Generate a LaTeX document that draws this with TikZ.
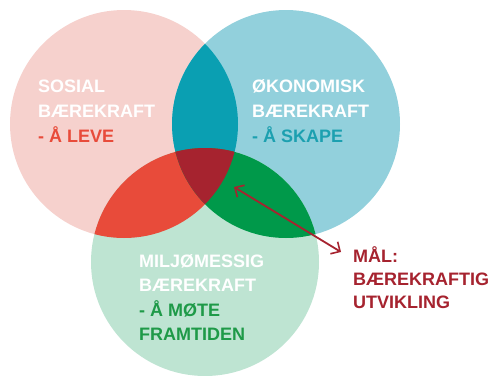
\documentclass[tikz,border=0pt]{standalone}
\usepackage{fontspec}
\setmainfont{Liberation Sans}[BoldFont={Liberation Sans Bold}]
\usetikzlibrary{arrows.meta}
\definecolor{pinkL}{HTML}{F6D1CD}
\definecolor{tealL}{HTML}{92D0DC}
\definecolor{greenL}{HTML}{BEE4D2}
\definecolor{pinkTeal}{HTML}{0A9FB2}
\definecolor{pinkGreen}{HTML}{E84B3A}
\definecolor{tealGreen}{HTML}{00994A}
\definecolor{triple}{HTML}{A6232F}
\definecolor{txtRed}{HTML}{E84B3A}
\definecolor{txtTeal}{HTML}{1CA0B0}
\definecolor{txtGreen}{HTML}{1E9A48}
\definecolor{txtGoal}{HTML}{A6232F}
\tikzset{
  lbl/.style={anchor=base west, inner sep=0pt, font=\fontsize{18}{22}\selectfont\bfseries},
  goalarrow/.style={draw=txtGoal, line width=1.8pt,
    {Straight Barb[length=7pt,width=14pt,line width=1.6pt]}-{Straight Barb[length=7pt,width=14pt,line width=1.6pt]}}
}
\begin{document}
\begin{tikzpicture}[x=1pt,y=-1pt]
\useasboundingbox (0,0) rectangle (495,375);
\fill[white] (0,0) rectangle (495,375);
% circles
\def\circA{(124,124) circle[radius=114pt]}
\def\circB{(286,124) circle[radius=114pt]}
\def\circC{(205,262) circle[radius=114pt]}
\fill[pinkL] \circA;
\fill[tealL] \circB;
\fill[greenL] \circC;
\begin{scope}
  \clip \circA;
  \fill[pinkTeal] \circB;
  \fill[pinkGreen] \circC;
\end{scope}
\begin{scope}
  \clip \circB;
  \fill[tealGreen] \circC;
\end{scope}
\begin{scope}
  \clip \circA;
  \clip \circB;
  \fill[triple] \circC;
\end{scope}
% texts
\node[lbl, text=white] (s1) at (38,92) {SOSIAL};
\node[lbl, text=white] (s2) at (38,117) {BÆREKRAFT};
\node[lbl, text=txtRed] (s3) at (38,142) {- Å LEVE};
\node[lbl, text=white] (o1) at (252,92) {ØKONOMISK};
\node[lbl, text=white] (o2) at (252,117) {BÆREKRAFT};
\node[lbl, text=txtTeal] (o3) at (252,142) {- Å SKAPE};
\node[lbl, text=white] (m1) at (139,267) {MILJØMESSIG};
\node[lbl, text=white] (m2) at (139,291) {BÆREKRAFT};
\node[lbl, text=txtGreen] (m3) at (139,316) {- Å MØTE};
\node[lbl, text=txtGreen] (m4) at (139,340) {FRAMTIDEN};
\node[lbl, text=txtGoal] (g1) at (353,262) {MÅL:};
\node[lbl, text=txtGoal] (g2) at (353,285) {BÆREKRAFTIG};
\node[lbl, text=txtGoal] (g3) at (353,308) {UTVIKLING};
% arrow
\coordinate (aStart) at (234,187);
\coordinate (aEnd) at (341,252);
\draw[goalarrow] (aStart) -- (aEnd);
\end{tikzpicture}
\end{document}
